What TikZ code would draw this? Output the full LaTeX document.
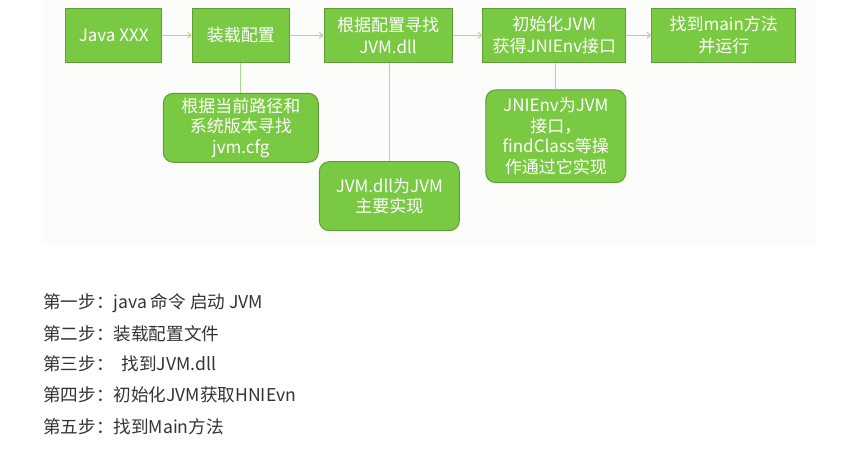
\documentclass[tikz,border=0pt]{standalone}
\usepackage{fontspec}
\newfontfamily\cjk{Noto Sans CJK SC}
\usetikzlibrary{arrows.meta}
\definecolor{boxfill}{HTML}{7AC943}
\definecolor{boxline}{HTML}{5E9E34}
\definecolor{linkline}{HTML}{A9DA8C}
\definecolor{panel}{HTML}{FCFCFA}
\definecolor{bodytext}{HTML}{333333}
\tikzset{
  stepbox/.style={draw=boxline, line width=1pt, fill=boxfill, text=white, align=center,
    font=\cjk\fontsize{17}{21.5}\selectfont, inner sep=0pt},
  notebox/.style={stepbox, rounded corners=10pt, font=\cjk\fontsize{17}{20.5}\selectfont},
  flow/.style={draw=linkline, line width=1pt, -{Straight Barb[length=3.5pt,width=6pt]}},
  link/.style={draw=linkline, line width=1pt},
  caption/.style={anchor=west, text=bodytext, font=\cjk\fontsize{17.6}{20}\selectfont, inner sep=0pt}
}
\begin{document}
\begin{tikzpicture}[x=1pt,y=-1pt]
\useasboundingbox (0,0) rectangle (859,457);
\fill[panel] (42,0) rectangle (816,245);
\node[stepbox, minimum width=96, minimum height=54] (b1) at (113.7,35.3) {Java XXX};
\node[stepbox, minimum width=97, minimum height=54] (b2) at (240.8,35.3) {装载配置};
\node[stepbox, minimum width=128, minimum height=54] (b3) at (388,35.3) {根据配置寻找\\JVM.dll};
\node[stepbox, minimum width=143, minimum height=54] (b4) at (554.3,35.3) {初始化JVM\\获得JNIEnv接口};
\node[stepbox, minimum width=144, minimum height=54] (b5) at (723.8,35.3) {找到main方法\\并运行};
\node[notebox, minimum width=155, minimum height=69] (n1) at (240.8,127.8) {根据当前路径和\\系统版本寻找\\jvm.cfg};
\node[notebox, minimum width=140, minimum height=69] (n2) at (389.3,196.2) {JVM.dll为JVM\\主要实现};
\node[notebox, minimum width=140, minimum height=92.7] (n3) at (555.8,136.3) {JNIEnv为JVM\\接口，\\findClass等操\\作通过它实现};
\draw[flow] (b1) -- (b2);
\draw[flow] (b2) -- (b3);
\draw[flow] (b3) -- (b4);
\draw[flow] (b4) -- (b5);
\draw[link] (b2.south) -- (n1.north);
\draw[link] (n2.north |- b3.south) -- (n2.north);
\draw[link] (n3.north |- b4.south) -- (n3.north);
\node[caption] (t1) at (43,303) {第一步：java 命令 启动 JVM};
\node[caption] (t2) at (43,333.5) {第二步：装载配置文件};
\node[caption] (t3) at (43,364) {第三步：\hspace{8pt}找到JVM.dll};
\node[caption] (t4) at (43,395) {第四步：初始化JVM获取HNIEvn};
\node[caption] (t5) at (43,426.5) {第五步：找到Main方法};
\end{tikzpicture}
\end{document}
